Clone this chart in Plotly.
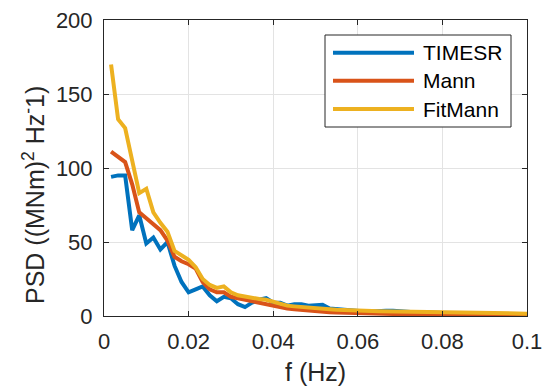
import plotly.graph_objects as go

# Frequency grid (Hz)
f = [0.00167, 0.00333, 0.005, 0.00667, 0.00833, 0.01, 0.01167, 0.01333, 0.015, 0.01667,
     0.01833, 0.02, 0.02167, 0.02333, 0.025, 0.02667, 0.02833, 0.03, 0.03167, 0.03333,
     0.035, 0.03667, 0.03833, 0.04, 0.04167, 0.04333, 0.045, 0.04667, 0.04833, 0.05,
     0.05167, 0.05333, 0.055, 0.05667, 0.05833, 0.06, 0.06167, 0.06333, 0.065, 0.06667,
     0.06833, 0.07, 0.07167, 0.07333, 0.075, 0.07667, 0.07833, 0.08, 0.08167, 0.08333,
     0.085, 0.08667, 0.08833, 0.09, 0.09167, 0.09333, 0.095, 0.09667, 0.09833, 0.1]

psd_timesr = [94, 95, 95, 58, 68, 49, 53, 45, 50, 34,
              23, 16, 18, 20, 14, 10, 13, 12, 8, 6,
              9, 11, 12, 9, 9, 7, 8, 8, 7, 7,
              7.5, 5, 4.5, 4, 3.5, 3.5, 3, 3, 3.5, 3.5,
              3.5, 3, 2.8, 2.5, 2.5, 2.2, 2.2, 2, 2, 1.8,
              1.7, 1.6, 1.5, 1.4, 1.3, 1.3, 1.2, 1.1, 1.1, 1.0]

psd_mann = [111, 107.5, 104, 89, 70, 66, 62, 58, 51, 40,
            37, 35, 32, 23, 18, 16, 16, 13, 12, 11,
            9.5, 9, 8, 7, 6, 5, 4.5, 4, 3.5, 3,
            2.8, 2.5, 2.3, 2.1, 2, 1.9, 1.8, 1.7, 1.6, 1.5,
            1.4, 1.3, 1.25, 1.2, 1.1, 1.05, 1, 0.95, 0.9, 0.85,
            0.8, 0.78, 0.75, 0.72, 0.7, 0.67, 0.65, 0.62, 0.6, 0.58]

psd_fitmann = [170, 133, 127, 106, 83, 86, 70, 63, 57, 44,
               41, 38, 33, 25, 21, 19, 20, 16, 14, 13,
               12, 11.5, 11, 9.5, 8, 7, 6.5, 6, 5.5, 5,
               4.8, 4.5, 4.2, 3.9, 3.7, 3.5, 3.4, 3.3, 3.2, 3.1,
               3.0, 2.9, 2.8, 2.7, 2.6, 2.5, 2.4, 2.3, 2.2, 2.1,
               2.0, 2.0, 1.9, 1.9, 1.8, 1.8, 1.7, 1.7, 1.6, 1.6]

series_names = ["TIMESR", "Mann", "FitMann"]
series_values = [psd_timesr, psd_mann, psd_fitmann]
series_colors = ["#0072BD", "#D95319", "#EDB120"]

x_ticks = [0, 0.02, 0.04, 0.06, 0.08, 0.1]
x_tick_text = ["0", "0.02", "0.04", "0.06", "0.08", "0.1"]
y_ticks = [0, 50, 100, 150, 200]

FONT = "Liberation Sans, Arial, Helvetica, sans-serif"
INK = "#262626"

fig = go.Figure()
for name, vals, col in zip(series_names, series_values, series_colors):
    fig.add_trace(go.Scatter(x=f, y=vals, mode="lines", name=name,
                             line=dict(color=col, width=4), showlegend=False))

axis_common = dict(
    showline=True, linecolor=INK, linewidth=1, mirror="ticks",
    ticks="inside", ticklen=5, tickcolor=INK, tickwidth=1,
    showgrid=True, gridcolor="#e3e3e3", gridwidth=1, zeroline=False,
    tickfont=dict(family=FONT, size=22, color=INK), automargin=False,
)

fig.update_layout(
    width=547, height=390,
    margin=dict(l=104, r=20, t=20, b=74),
    paper_bgcolor="white", plot_bgcolor="white",
    font=dict(family=FONT, color=INK),
    xaxis=dict(range=[0, 0.1], tickvals=x_ticks, ticktext=x_tick_text,
               ticklabelstandoff=6, **axis_common),
    yaxis=dict(range=[0, 200], tickvals=y_ticks, ticklabelstandoff=6, **axis_common),
)

# Axis titles
fig.add_annotation(text="f (Hz)", xref="paper", yref="paper", x=0.5, y=-0.19,
                   xanchor="center", yanchor="middle", showarrow=False,
                   font=dict(family=FONT, size=25, color=INK))
fig.add_annotation(text="PSD ((MNm)<sup>2</sup> Hz<sup>-</sup>1)", xref="paper", yref="paper",
                   x=-0.167, y=0.41, textangle=-90, xanchor="center", yanchor="middle",
                   showarrow=False, font=dict(family=FONT, size=25, color=INK))

# Legend box
def px_x(p):
    return (p - 104) / 423.0

def px_y(p):
    return (316 - p) / 296.0

fig.add_shape(type="rect", xref="paper", yref="paper",
              x0=px_x(325), x1=px_x(511), y0=px_y(127), y1=px_y(35),
              fillcolor="white", line=dict(color=INK, width=1), layer="above")
rows = [52.7, 80.7, 109]
for name, col, ry in zip(series_names, series_colors, rows):
    fig.add_shape(type="line", xref="paper", yref="paper",
                  x0=px_x(333), x1=px_x(414), y0=px_y(ry), y1=px_y(ry),
                  line=dict(color=col, width=4), layer="above")
    fig.add_annotation(text=name, xref="paper", yref="paper", x=px_x(421), y=px_y(ry),
                       xanchor="left", yanchor="middle", showarrow=False,
                       font=dict(family=FONT, size=21, color="black"))

fig.write_html("out.html")
